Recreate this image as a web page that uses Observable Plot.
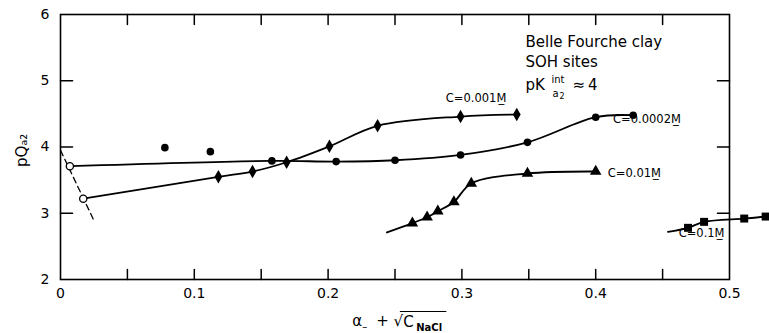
<!DOCTYPE html>
<html><head><meta charset="utf-8">
<script src="https://cdn.jsdelivr.net/npm/d3@7"></script>
<script src="https://cdn.jsdelivr.net/npm/@observablehq/plot@0.6"></script>
<style>body{margin:0;background:#fff}</style>
</head><body><div id="chart"></div>
<script>
// ---- data ----
const openX = [0.007, 0.017];
const openY = [3.71, 3.22];
const c0002X = [0.078, 0.112, 0.158, 0.206, 0.250, 0.299, 0.349, 0.400, 0.428];
const c0002Y = [3.99, 3.93, 3.79, 3.78, 3.80, 3.88, 4.07, 4.45, 4.48];
const c001X = [0.118, 0.1435, 0.169, 0.201, 0.237, 0.299, 0.341];
const c001Y = [3.55, 3.63, 3.77, 4.01, 4.32, 4.46, 4.49];
const c01X = [0.263, 0.274, 0.282, 0.294, 0.307, 0.349, 0.400];
const c01Y = [2.85, 2.94, 3.03, 3.17, 3.45, 3.60, 3.63];
const c1X = [0.469, 0.481, 0.511, 0.527];
const c1Y = [2.78, 2.87, 2.92, 2.95];
const c01StartX = [0.244], c01StartY = [2.71];
const c1StartX = [0.454], c1StartY = [2.72];
const c1EndX = [0.535], c1EndY = [2.97];
const dashX = [0, 0.025];
const dashY = [3.95, 2.89];
const xTickLabels = [0, 0.1, 0.2, 0.3, 0.4, 0.5];
const xMinorTicks = [0.05, 0.1, 0.15, 0.2, 0.25, 0.3, 0.35, 0.4, 0.45];
const yTickLabels = [2, 3, 4, 5, 6];
const yMinorTicks = [3, 4, 5];
const curveLabels = ["C=0.001M\u0332", "C=0.0002M\u0332", "C=0.01M\u0332", "C=0.1M\u0332"];
const curveLabelX = [0.288, 0.413, 0.409, 0.462];
const curveLabelY = [4.73, 4.42, 3.60, 2.69];
const noteLines = ["Belle Fourche clay", "SOH sites"];
const noteX = 0.3475;
const noteY = [5.58, 5.28, 4.93];

const pts = (xs, ys) => xs.map((x, i) => ({x, y: ys[i]}));
const open = pts(openX, openY);
const c0002 = pts(c0002X, c0002Y);
const c001 = pts(c001X, c001Y);
const c01 = pts(c01X, c01Y);
const c1 = pts(c1X, c1Y);
const line0002 = [open[0], ...c0002.slice(2)];
const line001 = [open[1], ...c001];
const line01 = [...pts(c01StartX, c01StartY), ...c01];
const line1 = [...pts(c1StartX, c1StartY), ...c1, ...pts(c1EndX, c1EndY)];
const dash = pts(dashX, dashY);
const labels = curveLabels.map((t, i) => ({t, x: curveLabelX[i], y: curveLabelY[i]}));

// inward frame ticks as two-point segments (grouped by id)
const [xa, xb] = [0, 0.5];
const [ya, yb] = [2, 6];
const tickSegs = [];
xMinorTicks.forEach((x, i) => {
  tickSegs.push({id: "b" + i, x, y: ya}, {id: "b" + i, x, y: ya + 0.15});
  tickSegs.push({id: "t" + i, x, y: yb}, {id: "t" + i, x, y: yb - 0.15});
});
yMinorTicks.forEach((y, i) => {
  tickSegs.push({id: "l" + i, x: xa, y}, {id: "l" + i, x: xa + 0.009, y});
  tickSegs.push({id: "r" + i, x: xb, y}, {id: "r" + i, x: xb - 0.009, y});
});

const tallDiamond = {
  draw(ctx, size) {
    const s = Math.sqrt(size);
    const w = s * 0.55, h = s * 0.95;
    ctx.moveTo(0, -h); ctx.lineTo(w, 0); ctx.lineTo(0, h); ctx.lineTo(-w, 0); ctx.closePath();
  }
};

// one text piece anchored at a data position, nudged in pixels
const txt = (t, x, y, o = {}) => Plot.text([{t, x, y}], {
  x: "x", y: "y", text: "t", textAnchor: "start", lineAnchor: "middle",
  fill: "black", fontSize: 15, ...o
});

const lw = 1.8;
const plot = Plot.plot({
  width: 769, height: 333,
  marginLeft: 60, marginRight: 40, marginTop: 14, marginBottom: 54,
  x: {domain: [xa, xb]},
  y: {domain: [ya, yb]},
  style: {fontFamily: "DejaVu Sans", fontSize: "14px", background: "white", color: "black"},
  marks: [
    Plot.frame({stroke: "black", strokeWidth: 1.6}),
    Plot.axisX({ticks: xTickLabels, tickSize: 0, tickPadding: 9, label: null, fontSize: 14,
      tickFormat: d => d === 0 ? "0" : d3.format(".1f")(d)}),
    Plot.axisY({ticks: yTickLabels, tickSize: 0, tickPadding: 11, label: null, fontSize: 14,
      tickFormat: d3.format("d")}),
    Plot.line(tickSegs, {x: "x", y: "y", z: "id", stroke: "black", strokeWidth: 1.5}),
    Plot.line(dash, {x: "x", y: "y", stroke: "black", strokeWidth: 1.3, strokeDasharray: "6,4"}),
    Plot.line(line0002, {x: "x", y: "y", curve: "catmull-rom", stroke: "black", strokeWidth: lw}),
    Plot.line(line001, {x: "x", y: "y", curve: "catmull-rom", stroke: "black", strokeWidth: lw}),
    Plot.line(line01, {x: "x", y: "y", curve: "catmull-rom", stroke: "black", strokeWidth: lw}),
    Plot.line(line1, {x: "x", y: "y", curve: "catmull-rom", stroke: "black", strokeWidth: lw}),
    Plot.dot(c0002, {x: "x", y: "y", r: 3.8, fill: "black", stroke: "none"}),
    Plot.dot(c001, {x: "x", y: "y", r: 4, symbol: tallDiamond, fill: "black", stroke: "none"}),
    Plot.dot(c01, {x: "x", y: "y", r: 4.3, symbol: "triangle", fill: "black", stroke: "none"}),
    Plot.dot(c1, {x: "x", y: "y", r: 4.5, symbol: "square", fill: "black", stroke: "none"}),
    Plot.dot(open, {x: "x", y: "y", r: 3.6, fill: "white", stroke: "black", strokeWidth: 1.3}),
    Plot.text(labels, {x: "x", y: "y", text: "t", textAnchor: "start", fontSize: 11.5, fill: "black"}),
    // annotation block
    txt(noteLines[0], noteX, noteY[0]),
    txt(noteLines[1], noteX, noteY[1]),
    txt("pK", noteX, noteY[2]),
    txt("int", noteX, noteY[2], {dx: 26, dy: -6, fontSize: 10}),
    txt("a", noteX, noteY[2], {dx: 27, dy: 8, fontSize: 10}),
    txt("2", noteX, noteY[2], {dx: 34, dy: 11, fontSize: 8}),
    txt("\u2248\u20094", noteX, noteY[2], {dx: 47}),
    // y axis label
    txt("pQ\u2090\u2082", 0, 3.95, {dx: -38, rotate: -90, textAnchor: "middle"}),
    // x axis label
    txt("\u03b1", 0.218, 2, {dy: 42}),
    txt("\u2013", 0.218, 2, {dx: 10, dy: 47, fontSize: 10}),
    txt("+ \u221a", 0.218, 2, {dx: 24, dy: 42}),
    txt("C", 0.218, 2, {dx: 51, dy: 43}),
    txt("NaCl", 0.218, 2, {dx: 64, dy: 48, fontSize: 10, fontWeight: "bold"}),
    Plot.line([{x: 0.254, y: 2}, {x: 0.288, y: 2}], {x: "x", y: "y", dy: 32, stroke: "black", strokeWidth: 1.2})
  ]
});
document.getElementById("chart").appendChild(plot);
</script>
</body></html>
